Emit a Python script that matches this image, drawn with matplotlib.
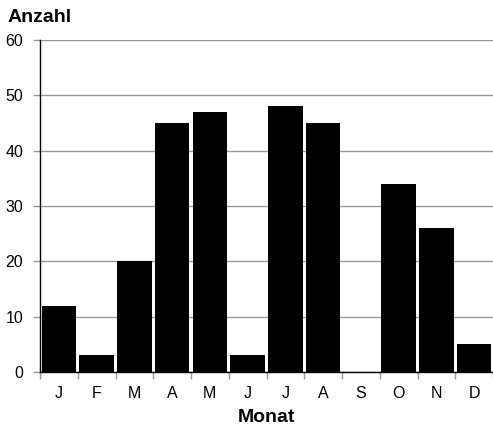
import matplotlib.pyplot as plt

# monthly counts
monate = ["J", "F", "M", "A", "M", "J", "J", "A", "S", "O", "N", "D"]
anzahl = [12, 3, 20, 45, 47, 3, 48, 45, 0, 34, 26, 5]
y_ticks = [0, 10, 20, 30, 40, 50, 60]

plt.rcParams['font.family'] = ['Liberation Sans', 'DejaVu Sans']

fig = plt.figure(figsize=(4.93, 4.28), dpi=100)
ax = fig.add_axes([40 / 493, 56 / 428, 453 / 493, 332 / 428])

x = list(range(len(monate)))
ax.bar(x, anzahl, width=0.92, color="black", zorder=3)

ax.set_xlim(-0.5, len(monate) - 0.5)
ax.set_ylim(0, 60)
ax.set_yticks(y_ticks)
ax.yaxis.grid(True, color="#999999", linewidth=1.0, zorder=0)

# category labels centred, tick marks between categories
ax.set_xticks(x)
ax.set_xticklabels(monate, fontsize=11.5)
ax.tick_params(axis="x", length=0, pad=10)
ax.set_xticks([i - 0.5 for i in range(len(monate) + 1)], minor=True)
ax.tick_params(axis="x", which="minor", length=5, color="#999999", width=1)
ax.tick_params(axis="y", length=5, color="#999999", width=1, labelsize=11.5, pad=7)

for side in ["top", "right"]:
    ax.spines[side].set_visible(False)
ax.spines["left"].set_linewidth(1.0)
ax.spines["bottom"].set_linewidth(1.0)

fig.text(8 / 493, 1 - 17 / 428, "Anzahl", fontsize=14, fontweight="bold",
         ha="left", va="center")
ax.set_xlabel("Monat", fontsize=14, fontweight="bold", labelpad=6)

fig.savefig("out.png", dpi=100)
